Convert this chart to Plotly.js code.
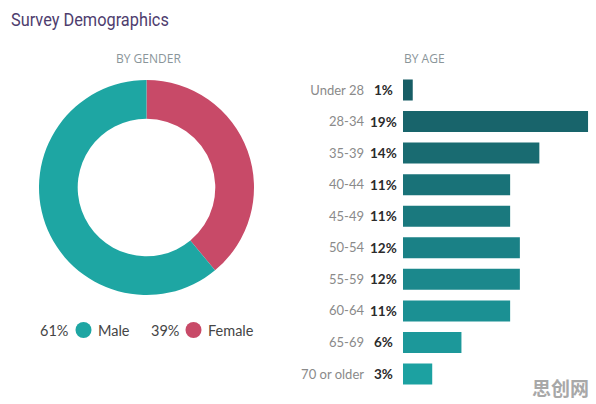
<!DOCTYPE html>
<html>
<head>
<meta charset="utf-8">
<script src="https://cdn.plot.ly/plotly-3.0.1.min.js"></script>
<style>
  html, body { margin: 0; padding: 0; background: #ffffff; }
  #chart { width: 596px; height: 404px; }
</style>
</head>
<body>
<div id="chart"></div>
<script>
// Gender split
const genderLabels = ['Female', 'Male'];
const genderValues = [39, 61];
const genderColors = ['#c84a68', '#1ea6a3'];

// Age groups, top to bottom
const ageGroups = ['Under 28', '28-34', '35-39', '40-44', '45-49', '50-54', '55-59', '60-64', '65-69', '70 or older'];
const agePercents = [1, 19, 14, 11, 11, 12, 12, 11, 6, 3];
const ageColors = ['#175d65', '#18646b', '#196b71', '#197278', '#1a797e',
                   '#1a8186', '#1b888c', '#1b9093', '#1c989a', '#1ca1a1'];

const W = 596, H = 404;
const px = v => v / W;           // horizontal pixel -> paper
const py = v => 1 - v / H;       // vertical pixel (from top) -> paper

const labelFont = 'Lato, "Open Sans", sans-serif';

const donut = {
  type: 'pie',
  labels: genderLabels,
  values: genderValues,
  hole: 0.64,
  sort: false,
  direction: 'clockwise',
  rotation: 0,
  marker: { colors: genderColors, line: { width: 0 } },
  textinfo: 'none',
  hoverinfo: 'label+percent',
  showlegend: false,
  domain: { x: [px(39), px(254)], y: [py(295), py(80)] }
};

const bars = {
  type: 'bar',
  orientation: 'h',
  x: agePercents,
  y: ageGroups,
  marker: { color: ageColors, line: { width: 0 } },
  hovertemplate: '%{y}: %{x}%<extra></extra>',
  showlegend: false,
  xaxis: 'x',
  yaxis: 'y'
};

// Bold percentage labels between the category names and the bars
const pctAnnotations = ageGroups.map((g, i) => ({
  xref: 'paper', yref: 'y',
  x: px(383), y: g,
  text: '<b>' + agePercents[i] + '%</b>',
  showarrow: false,
  xanchor: 'center', yanchor: 'middle',
  font: { family: labelFont, size: 13.5, color: '#2b2b2b' }
}));

// Donut legend: "61% ● Male   39% ● Female"
const male = genderLabels.indexOf('Male');
const female = genderLabels.indexOf('Female');
const legendAnnotations = [
  { x: px(70), text: genderValues[male] + '%', xanchor: 'right' },
  { x: px(96), text: genderLabels[male], xanchor: 'left' },
  { x: px(181), text: genderValues[female] + '%', xanchor: 'right' },
  { x: px(206), text: genderLabels[female], xanchor: 'left' }
].map(a => Object.assign({
  xref: 'paper', yref: 'paper', y: py(330), yanchor: 'middle',
  showarrow: false,
  font: { family: labelFont, size: 14.5, color: '#454545' }
}, a));

const dot = (cx, color) => ({
  type: 'circle', xref: 'paper', yref: 'paper',
  x0: px(cx - 8), x1: px(cx + 8), y0: py(338), y1: py(322),
  fillcolor: color, line: { width: 0 }
});

const headerFont = { family: '"Open Sans", Lato, sans-serif', size: 12, color: '#8a959a' };

const layout = {
  width: W, height: H,
  margin: { l: 0, r: 0, t: 0, b: 0 },
  paper_bgcolor: '#ffffff',
  plot_bgcolor: '#ffffff',
  title: {
    text: 'Survey Demographics',
    xref: 'paper', yref: 'paper',
    x: px(11), xanchor: 'left',
    y: py(19), yanchor: 'middle',
    font: { family: 'Roboto, sans-serif', size: 19, color: '#4e3d6e' }
  },
  xaxis: {
    domain: [px(403), px(590)],
    range: [0, 19.2],
    visible: false,
    fixedrange: true
  },
  yaxis: {
    domain: [py(389.8), py(74.2)],
    type: 'category',
    categoryorder: 'array',
    categoryarray: ageGroups,
    autorange: 'reversed',
    showgrid: false, zeroline: false, showline: false,
    ticks: '',
    ticklabelstandoff: 38,
    tickfont: { family: labelFont, size: 13, color: '#8a8a8a' },
    fixedrange: true
  },
  bargap: 0.335,
  shapes: [dot(83.5, genderColors[male]), dot(193.5, genderColors[female])],
  annotations: [
    {
      xref: 'paper', yref: 'paper', x: px(148), y: py(58),
      text: 'BY GENDER', showarrow: false, xanchor: 'center', yanchor: 'middle',
      font: headerFont
    },
    {
      xref: 'paper', yref: 'paper', x: px(402), y: py(58),
      text: 'BY AGE', showarrow: false, xanchor: 'left', yanchor: 'middle',
      font: headerFont
    },
    {
      xref: 'paper', yref: 'paper', x: px(591), y: py(387),
      text: '<b>思创网</b>', showarrow: false, xanchor: 'right', yanchor: 'middle',
      font: { family: '"Noto Sans CJK SC", sans-serif', size: 19, color: '#a8a8a8' }
    }
  ].concat(pctAnnotations, legendAnnotations)
};

// Narrow the title horizontally to give it a condensed look
function condenseTitle(gd) {
  const t = gd.querySelector('.gtitle');
  if (!t) return;
  const x0 = parseFloat(t.getAttribute('x')) || 0;
  t.setAttribute('transform', `translate(${x0},0) scale(0.86,1) translate(${-x0},0)`);
}

Plotly.newPlot('chart', [donut, bars], layout, { displayModeBar: false })
  .then(condenseTitle);
</script>
</body>
</html>
